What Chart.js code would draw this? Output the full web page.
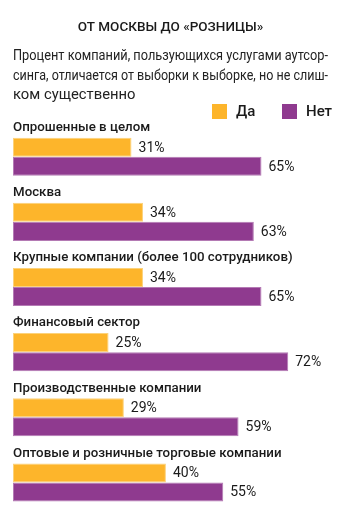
<!DOCTYPE html>
<html>
<head>
<meta charset="utf-8">
<script src="https://cdn.jsdelivr.net/npm/chart.js@4"></script>
<style>
  html, body { margin: 0; padding: 0; background: #fff; }
  #wrap { width: 350px; height: 516px; }
</style>
</head>
<body>
<div id="wrap"><canvas id="myChart"></canvas></div>
<script>
const categories = ['Опрошенные в целом', 'Москва', 'Крупные компании (более 100 сотрудников)', 'Финансовый сектор', 'Производственные компании', 'Оптовые и розничные торговые компании'];
const yesValues = [31, 34, 34, 25, 29, 40];
const noValues = [65, 63, 65, 72, 59, 55];
const seriesNames = ['Да', 'Нет'];

const titleText = 'ОТ МОСКВЫ ДО «РОЗНИЦЫ»';
const subtitleLines = [
    'Процент компаний, пользующихся услугами аутсор-',
    'синга, отличается от выборки к выборке, но не слиш-',
    'ком существенно'
];

const FONT = 'Roboto';

// легенда, подписи групп над столбцами и значения справа от столбцов
const barLabels = {
    id: 'barLabels',
    afterDatasetsDraw(chart) {
        const c = chart.ctx;
        const yScale = chart.scales.y;
        c.save();
        c.fillStyle = '#1a1a1a';
        c.textBaseline = 'middle';
        c.textAlign = 'left';

        // легенда
        const legendX = [212, 282];
        c.font = '500 15px ' + FONT;
        chart.data.datasets.forEach((ds, di) => {
            c.fillStyle = ds.backgroundColor;
            c.fillRect(legendX[di], 104, 15, 15);
            c.fillStyle = '#1a1a1a';
            c.fillText(ds.label, legendX[di] + 24, 112);
        });

        c.font = '500 13.3px ' + FONT;
        categories.forEach((cat, i) => {
            const y = yScale.getPixelForValue(i);
            c.fillText(cat, chart.chartArea.left, y - 29);
        });
        c.font = '14px ' + FONT;
        chart.data.datasets.forEach((ds, di) => {
            chart.getDatasetMeta(di).data.forEach((bar, i) => {
                c.fillText(ds.data[i] + '%', bar.x + 7, bar.y + 1);
            });
        });
        c.restore();
    }
};

new Chart(document.getElementById('myChart'), {
    type: 'bar',
    data: {
        labels: categories,
        datasets: [{
            label: seriesNames[0],
            data: yesValues,
            backgroundColor: '#FDB52B',
            borderColor: '#FCD27A',
            borderWidth: 1,
            borderSkipped: false
        }, {
            label: seriesNames[1],
            data: noValues,
            backgroundColor: '#8F3A8F',
            borderColor: '#B47AB4',
            borderWidth: 1,
            borderSkipped: false
        }]
    },
    options: {
        indexAxis: 'y',
        responsive: true,
        maintainAspectRatio: false,
        animation: false,
        categoryPercentage: 38 / 65,
        barPercentage: 1,
        layout: {
            padding: { left: 13, right: 22, top: 0, bottom: 1 }
        },
        scales: {
            x: { display: false, min: 0, max: 82.4 },
            y: { display: false }
        },
        plugins: {
            title: {
                display: true,
                text: titleText,
                color: '#1a1a1a',
                font: { family: FONT, size: 13.5, weight: '500', lineHeight: 1.3 },
                padding: { top: 19, bottom: 10 }
            },
            subtitle: {
                display: true,
                text: subtitleLines,
                align: 'start',
                color: '#222',
                font: { family: FONT, size: 14.8, lineHeight: 1.32 },
                padding: { top: 0, bottom: 19 }
            },
            legend: { display: false },
            tooltip: { enabled: false }
        }
    },
    plugins: [barLabels]
});
</script>
</body>
</html>
